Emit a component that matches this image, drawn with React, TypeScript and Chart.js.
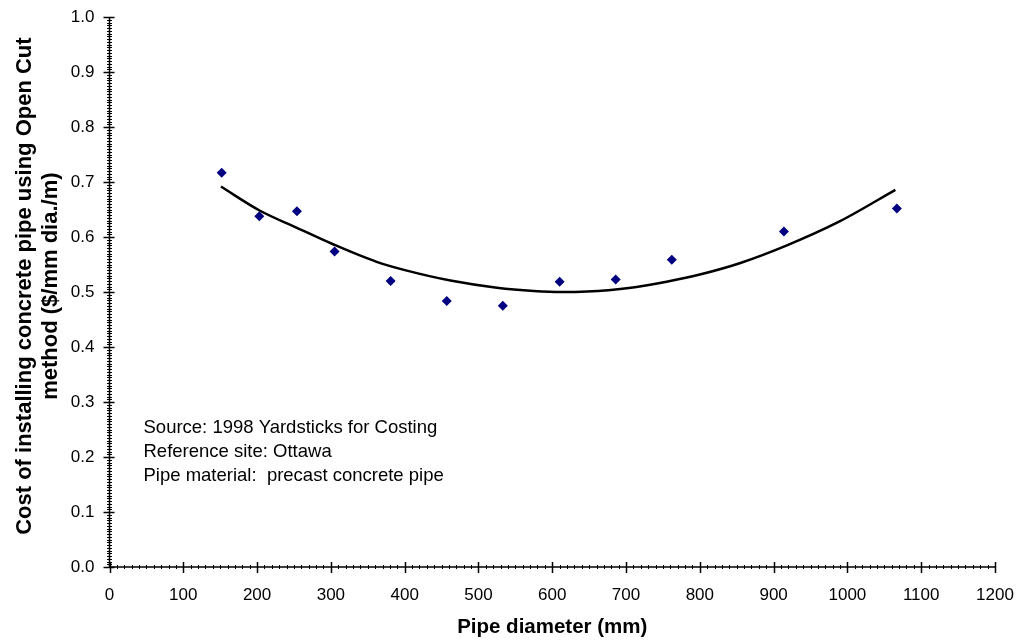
import React, { useEffect, useRef } from "react";
import { Chart, registerables } from "chart.js";

Chart.register(...registerables);

// Observed data (pipe diameter mm, cost $/mm dia./m)
const pipeDiameters = [152, 203, 254, 305, 381, 457, 533, 610, 686, 762, 914, 1067];
const costValues = [0.717, 0.638, 0.647, 0.574, 0.520, 0.484, 0.475, 0.519, 0.523, 0.559, 0.610, 0.652];

// Trend line
const trendX = [151, 204, 254, 303, 362, 403, 462, 525, 575, 612, 647, 701, 755, 800, 855, 918, 990, 1065];
const trendY = [0.692, 0.648, 0.617, 0.587, 0.555, 0.539, 0.521, 0.508, 0.502, 0.500, 0.501, 0.507, 0.519, 0.532, 0.553, 0.585, 0.629, 0.686];

const noteLines = [
  "Source: 1998 Yardsticks for Costing",
  "Reference site: Ottawa",
  "Pipe material:  precast concrete pipe",
];

const yTitle = ["Cost of installing concrete pipe using Open Cut", "method ($/mm dia./m)"];
const xTitle = "Pipe diameter (mm)";

const FONT = "'Liberation Sans', Arial, Helvetica, sans-serif";

const axisPlugin = {
  id: "excelAxes",
  afterDraw(chart: any) {
    const { ctx, chartArea, scales } = chart;
    const x = scales.x;
    const y = scales.y;
    const x0 = x.getPixelForValue(0);
    const y0 = y.getPixelForValue(0);
    ctx.save();
    ctx.strokeStyle = "#000";
    ctx.lineWidth = 1.5;
    ctx.beginPath();
    ctx.moveTo(x0, y.getPixelForValue(1));
    ctx.lineTo(x0, y0);
    ctx.lineTo(x.getPixelForValue(1200), y0);
    ctx.stroke();
    for (let v = 0; v <= 1200; v += 10) {
      const px = Math.round(x.getPixelForValue(v)) + 0.5;
      const major = v % 100 === 0;
      ctx.lineWidth = major ? 1.5 : 1;
      ctx.beginPath();
      ctx.moveTo(px, y0 - (major ? 5 : 2));
      ctx.lineTo(px, y0 + (major ? 6 : 2));
      ctx.stroke();
    }
    for (let i = 0; i <= 200; i++) {
      const v = i / 200;
      const py = Math.round(y.getPixelForValue(v)) + 0.5;
      const major = i % 20 === 0;
      ctx.lineWidth = major ? 1.5 : 1;
      ctx.beginPath();
      ctx.moveTo(x0 - (major ? 6 : 2.5), py);
      ctx.lineTo(x0 + (major ? 5 : 2.5), py);
      ctx.stroke();
    }
    ctx.fillStyle = "#000";
    ctx.font = `18.5px ${FONT}`;
    ctx.textBaseline = "alphabetic";
    ctx.textAlign = "left";
    noteLines.forEach((t, i) => {
      ctx.fillText(t, chartArea.left + 34, 433 + i * 24);
    });
    // y axis title
    ctx.font = `bold 22px ${FONT}`;
    ctx.textAlign = "center";
    ctx.textBaseline = "middle";
    ctx.translate(0, (chartArea.top + chartArea.bottom) / 2 - 6);
    ctx.rotate(-Math.PI / 2);
    yTitle.forEach((t, i) => {
      ctx.fillText(t, 0, 25 + i * 25.5);
    });
    ctx.restore();
  },
};

export default function App() {
  const ref = useRef<HTMLCanvasElement | null>(null);
  useEffect(() => {
    document.body.style.margin = "0";
    const canvas = ref.current!;
    const chart = new Chart(canvas, {
      type: "scatter",
      data: {
        datasets: [
          {
            type: "line",
            data: trendX.map((v, i) => ({ x: v, y: trendY[i] })),
            borderColor: "#000",
            borderWidth: 2.5,
            pointRadius: 0,
            cubicInterpolationMode: "monotone",
            fill: false,
          } as any,
          {
            data: pipeDiameters.map((v, i) => ({ x: v, y: costValues[i] })),
            pointStyle: "rectRot",
            pointRadius: 5,
            backgroundColor: "#000080",
            borderColor: "#000080",
            borderWidth: 0,
          },
        ],
      },
      options: {
        responsive: false,
        animation: false,
        layout: { padding: { left: 0, right: 23, top: 5, bottom: 0 } },
        plugins: { legend: { display: false }, tooltip: { enabled: false } },
        scales: {
          x: {
            type: "linear",
            min: 0,
            max: 1200,
            grid: { display: false },
            border: { display: false },
            ticks: {
              stepSize: 100,
              color: "#000",
              font: { size: 17, family: FONT },
              padding: 10,
              callback: (v: any) => String(v),
            },
            title: {
              display: true,
              text: xTitle,
              color: "#000",
              font: { size: 20.5, weight: "bold", family: FONT, lineHeight: 1.15 },
              padding: { top: 0, bottom: 2 },
            },
            afterFit: (s: any) => {
              s.height = 74;
              s.paddingRight = 0;
              s.paddingLeft = 0;
            },
          },
          y: {
            min: 0,
            max: 1,
            grid: { display: false },
            border: { display: false },
            ticks: {
              stepSize: 0.1,
              color: "#000",
              font: { size: 17, family: FONT },
              padding: 7,
              callback: (v: any) => Number(v).toFixed(1),
            },
            title: { display: false },
            afterFit: (s: any) => {
              s.width = 109.5;
            },
          },
        },
      },
      plugins: [axisPlugin],
    });
    return () => chart.destroy();
  }, []);
  return (
    <div style={{ position: "absolute", left: 0, top: 0, width: 1018, height: 641, background: "#fff" }}>
      <canvas ref={ref} width={1018} height={641} />
    </div>
  );
}
